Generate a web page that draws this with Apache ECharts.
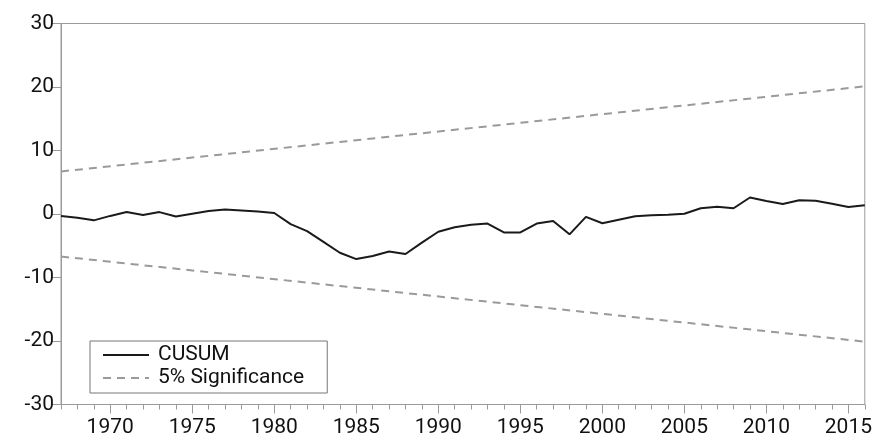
<!DOCTYPE html>
<html>
<head>
<meta charset="utf-8">
<script src="https://cdn.jsdelivr.net/npm/echarts@6/dist/echarts.min.js"></script>
<style>html,body{margin:0;padding:0;background:#fff}#c{width:875px;height:440px}</style>
</head>
<body>
<div id="c"></div>
<script>
var years = [];
for (var y = 1967; y <= 2016; y++) years.push(String(y));
var cusum = [-0.3,-0.6,-1.0,-0.3,0.3,-0.15,0.3,-0.4,0.05,0.47,0.7,0.55,0.4,0.16,
  -1.6,-2.7,-4.4,-6.1,-7.1,-6.6,-5.9,-6.3,-4.5,-2.8,-2.1,-1.7,-1.5,-2.9,-2.9,-1.5,
  -1.1,-3.2,-0.45,-1.45,-0.9,-0.37,-0.2,-0.1,0.05,0.9,1.15,0.9,2.6,2.05,1.57,2.15,
  2.1,1.6,1.1,1.37];
var upperStart = 6.7, upperEnd = 20.1;
var lowerStart = -6.7, lowerEnd = -20.1;
var yTicks = {min: -30, max: 30, interval: 10};

var upper = years.map(function (v, i) { return i === 0 ? upperStart : (i === years.length - 1 ? upperEnd : null); });
var lower = years.map(function (v, i) { return i === 0 ? lowerStart : (i === years.length - 1 ? lowerEnd : null); });

var font = 'Roboto';
var chart = echarts.init(document.getElementById('c'));
var gray = '#9a9a9a';
chart.setOption({
  animation: false,
  grid: {left: 61, right: 9, top: 23.5, bottom: 35.5, show: true, borderColor: gray, borderWidth: 1},
  legend: {
    orient: 'vertical', left: 90, top: 341,
    borderColor: '#777', borderWidth: 1,
    padding: [3, 23, 4, 12], itemGap: 1, itemWidth: 46, itemHeight: 14,
    itemStyle: {opacity: 0, borderWidth: 0},
    textStyle: {fontFamily: font, fontSize: 21, lineHeight: 22, color: '#111', padding: [0, 0, 0, 4]},
    data: ['CUSUM', '5% Significance']
  },
  xAxis: [{
    type: 'category', data: years, boundaryGap: false,
    axisLine: {onZero: false, lineStyle: {color: gray}},
    axisTick: {interval: 0, length: 5, lineStyle: {color: gray}},
    axisLabel: {show: false}
  }, {
    type: 'category', data: years, boundaryGap: false, position: 'bottom',
    axisLine: {show: false, onZero: false},
    axisTick: {interval: function (i, v) { return (+v) % 5 === 0; }, length: 9, lineStyle: {color: gray}},
    axisLabel: {interval: function (i, v) { return (+v) % 5 === 0; }, margin: 13,
      fontFamily: font, fontSize: 21, color: '#111'}
  }],
  yAxis: {
    type: 'value', min: yTicks.min, max: yTicks.max, interval: yTicks.interval,
    splitLine: {show: false},
    axisLine: {show: true, lineStyle: {color: gray}},
    axisTick: {show: true, length: 9, lineStyle: {color: gray}},
    axisLabel: {margin: 7, fontFamily: font, fontSize: 21, color: '#111'}
  },
  series: [{
    name: 'CUSUM', type: 'line', data: cusum, symbol: 'none',
    lineStyle: {color: '#1a1a1a', width: 2}, itemStyle: {color: '#1a1a1a'}
  }, {
    name: '5% Significance', type: 'line', data: upper, connectNulls: true, symbol: 'none',
    lineStyle: {color: gray, width: 2, type: [8, 6]}, itemStyle: {color: gray}
  }, {
    name: '5% Significance', type: 'line', data: lower, connectNulls: true, symbol: 'none',
    lineStyle: {color: gray, width: 2, type: [8, 6]}, itemStyle: {color: gray}
  }]
});
</script>
</body>
</html>
